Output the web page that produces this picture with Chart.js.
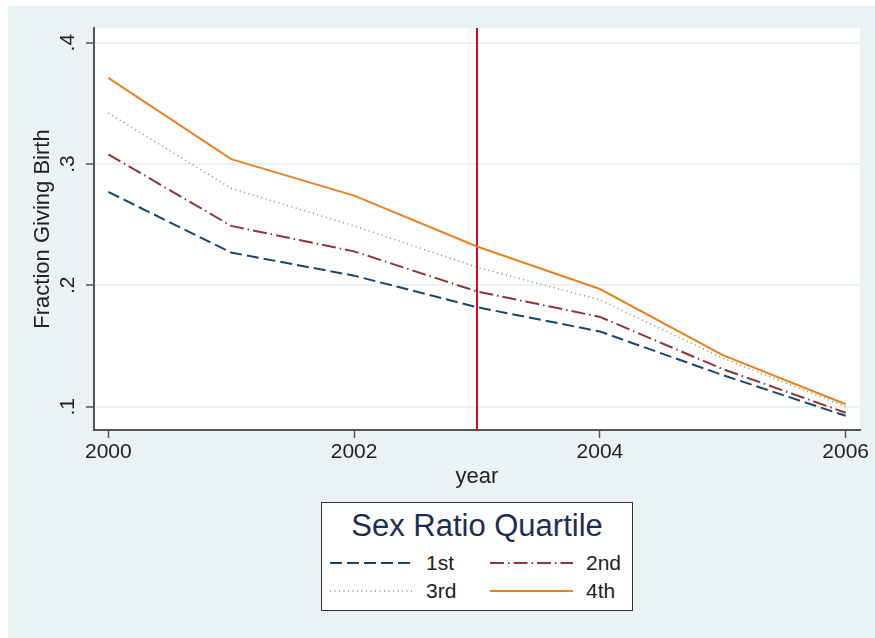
<!DOCTYPE html>
<html>
<head>
<meta charset="utf-8">
<script src="https://cdn.jsdelivr.net/npm/chart.js@4/dist/chart.umd.min.js"></script>
<style>
  html, body { margin: 0; padding: 0; background: #ffffff; }
  #wrap { position: relative; width: 875px; height: 638px; }
  #c { position: absolute; left: 0; top: 0; }
  #legend {
    position: absolute; left: 321px; top: 502px; width: 312px; height: 109px;
    background: #ffffff; border: 1px solid #333333; box-sizing: border-box;
    font-family: "Liberation Sans", Arial, sans-serif; color: #222222;
  }
  #legend .ttl {
    position: absolute; left: 0; width: 100%; top: 5px; text-align: center;
    font-size: 31px; line-height: 36px; color: #1c2e57;
  }
  #legend .item { position: absolute; height: 26px; font-size: 21px; line-height: 26px; }
  #legend .item svg { position: absolute; left: 0; top: 0; }
  #legend .item span { position: absolute; left: 96px; top: 0; white-space: nowrap; }
</style>
</head>
<body>
<div id="wrap">
  <canvas id="c" width="875" height="638"></canvas>
  <div id="legend"></div>
</div>
<script>
// ---- data ----
const years = [2000, 2001, 2002, 2003, 2004, 2005, 2006];
const q1st = [0.277, 0.227, 0.208, 0.182, 0.162, 0.126, 0.0925];
const q2nd = [0.308, 0.249, 0.228, 0.195, 0.174, 0.131, 0.095];
const q3rd = [0.342, 0.280, 0.249, 0.215, 0.188, 0.140, 0.100];
const q4th = [0.371, 0.304, 0.274, 0.232, 0.197, 0.1425, 0.102];
const seriesNames = ["1st", "2nd", "3rd", "4th"];
const xTicks = [2000, 2002, 2004, 2006];
const yTicks = [0.1, 0.2, 0.3, 0.4];
const yTickLabels = [".1", ".2", ".3", ".4"];
const refYear = [2003];
const legendTitle = "Sex Ratio Quartile";
const xTitle = "year";
const yTitle = "Fraction Giving Birth";

// ---- styles ----
const seriesColors = ["#1a476f", "#90353b", "#7a9260", "#e8821e"];
const seriesDash = [[12, 5], [14, 4, 1.5, 4], [1, 3.5], []];
const seriesWidth = [2, 2, 1.5, 2];
const refColor = "#c8102e";
const xMin = 1999.8836, xMax = 2006.1164;
const yMin = 0.0808, yMax = 0.4121;
const FONT = '"Liberation Sans", Arial, sans-serif';
const TXT = "#222222";
const BG = "#eaf2f3";

const seriesValues = [q1st, q2nd, q3rd, q4th];
const datasets = seriesValues.map((vals, i) => ({
  label: seriesNames[i],
  data: years.map((yr, j) => ({ x: yr, y: vals[j] })),
  borderColor: seriesColors[i],
  backgroundColor: seriesColors[i],
  borderDash: seriesDash[i],
  borderWidth: seriesWidth[i],
  pointRadius: 0,
  tension: 0,
  fill: false
}));
datasets.push({
  label: "ref",
  data: [{ x: refYear[0], y: yMin }, { x: refYear[0], y: yMax }],
  borderColor: refColor,
  borderWidth: 2,
  pointRadius: 0,
  fill: false
});

const bgPlugin = {
  id: "bg",
  beforeDraw(chart) {
    const ctx = chart.ctx, a = chart.chartArea;
    ctx.save();
    ctx.fillStyle = "#ffffff";
    ctx.fillRect(0, 0, chart.width, chart.height);
    ctx.fillStyle = BG;
    ctx.fillRect(8, 6, chart.width - 8, chart.height - 6);
    ctx.fillStyle = "#ffffff";
    ctx.fillRect(a.left, a.top, a.right - a.left, a.bottom - a.top);
    ctx.restore();
  }
};

const yLabelPlugin = {
  id: "ylabels",
  afterDraw(chart) {
    const ctx = chart.ctx, ys = chart.scales.y;
    ctx.save();
    ctx.fillStyle = TXT;
    ctx.font = "21px " + FONT;
    ctx.textAlign = "center";
    ctx.textBaseline = "middle";
    yTicks.forEach((v, i) => {
      const py = ys.getPixelForValue(v);
      ctx.save();
      ctx.translate(68, py);
      ctx.rotate(-Math.PI / 2);
      ctx.fillText(yTickLabels[i], 0, 0);
      ctx.restore();
    });
    ctx.restore();
  }
};

new Chart(document.getElementById("c"), {
  type: "line",
  data: { datasets },
  plugins: [bgPlugin, yLabelPlugin],
  options: {
    responsive: false,
    animation: false,
    devicePixelRatio: 1,
    layout: { padding: { left: 8, top: 28, right: 15, bottom: 148 } },
    plugins: { legend: { display: false }, tooltip: { enabled: false } },
    scales: {
      x: {
        type: "linear",
        min: xMin, max: xMax,
        afterBuildTicks: s => { s.ticks = xTicks.map(v => ({ value: v })); },
        afterFit: s => { s.height = 60; },
        ticks: {
          color: TXT, font: { family: FONT, size: 21 }, padding: 2,
          maxRotation: 0, autoSkip: false,
          callback: v => String(v)
        },
        grid: { drawOnChartArea: false, drawTicks: true, tickLength: 8, tickColor: "#555555", tickWidth: 1.5 },
        border: { color: "#555555", width: 2 },
        title: { display: true, text: xTitle, color: TXT, font: { family: FONT, size: 22 }, padding: { top: 0, bottom: 0 } }
      },
      y: {
        type: "linear",
        min: yMin, max: yMax,
        afterBuildTicks: s => { s.ticks = yTicks.map(v => ({ value: v })); },
        afterFit: s => { s.width = 86; },
        ticks: { display: false },
        grid: { color: BG, lineWidth: 2, drawTicks: true, tickLength: 8, tickColor: "#555555", tickWidth: 1.5 },
        border: { color: "#555555", width: 2 },
        title: { display: true, text: yTitle, color: TXT, font: { family: FONT, size: 22 }, padding: { top: 22, bottom: 0 } }
      }
    }
  }
});

// ---- legend (HTML, built from the same series arrays) ----
const lg = document.getElementById("legend");
const t = document.createElement("div");
t.className = "ttl";
t.textContent = legendTitle;
lg.appendChild(t);
const colX = [8, 168];
const rowY = [47, 75];
seriesNames.forEach((name, i) => {
  const it = document.createElement("div");
  it.className = "item";
  it.style.left = colX[i % 2] + "px";
  it.style.top = rowY[Math.floor(i / 2)] + "px";
  it.style.width = "140px";
  const dash = seriesDash[i].length ? seriesDash[i].join(" ") : "none";
  it.innerHTML = '<svg width="84" height="26"><line x1="0" y1="13" x2="83" y2="13" stroke="' +
    seriesColors[i] + '" stroke-width="' + seriesWidth[i] + '" stroke-dasharray="' + dash + '"/></svg>';
  const sp = document.createElement("span");
  sp.textContent = name;
  it.appendChild(sp);
  lg.appendChild(it);
});
</script>
</body>
</html>
